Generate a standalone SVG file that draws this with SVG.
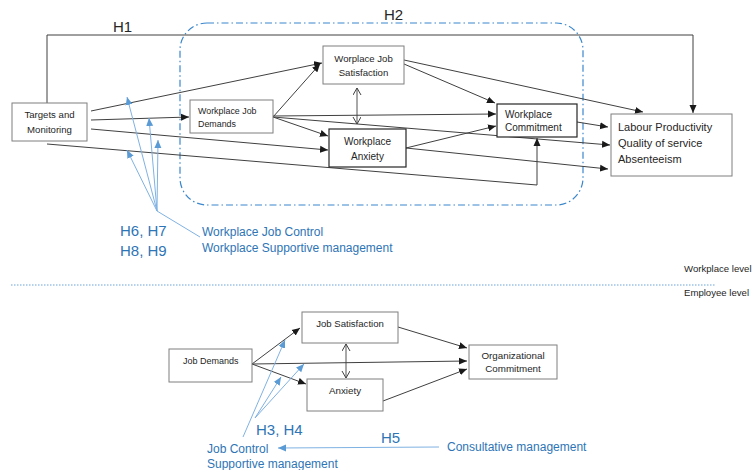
<svg xmlns="http://www.w3.org/2000/svg" width="756" height="470" viewBox="0 0 756 470">
<defs>
<marker id="ah" markerUnits="userSpaceOnUse" markerWidth="9" markerHeight="8" refX="8" refY="4" orient="auto">
<path d="M0,0.5 L8,4 L0,7.5 Z" fill="#1a1a1a"/>
</marker>
<marker id="bh" markerUnits="userSpaceOnUse" markerWidth="9" markerHeight="8" refX="8" refY="4" orient="auto">
<path d="M0,0.5 L8,4 L0,7.5 Z" fill="#5B9BD5"/>
</marker>
<marker id="vh" markerUnits="userSpaceOnUse" markerWidth="10" markerHeight="10" refX="7" refY="4" orient="auto-start-reverse">
<path d="M0,0 L7,4 L0,8" fill="none" stroke="#404040" stroke-width="1"/>
</marker>
</defs>
<style>
.box{fill:#fff;stroke:#7f7f7f;stroke-width:1}
.boxd{fill:#fff;stroke:#262626;stroke-width:1.2}
.t{font-family:"Liberation Sans",Arial,sans-serif;fill:#262626}
.bt{font-family:"Liberation Sans",Arial,sans-serif;fill:#2E75B6}
.c{fill:none;stroke:#404040;stroke-width:1;marker-end:url(#ah)}
.b{fill:none;stroke:#7fb2e3;stroke-width:1;marker-end:url(#bh)}
.bl{fill:none;stroke:#7fb2e3;stroke-width:1}
.d{fill:none;stroke:#404040;stroke-width:0.9;marker-start:url(#vh);marker-end:url(#vh)}
</style>
<rect width="756" height="470" fill="#fff"/>

<!-- group boundary -->
<rect id="h2-group" x="180" y="23" width="403" height="182" rx="27" ry="27" fill="none" stroke="#3b87cc" stroke-width="1.2" stroke-dasharray="7 3 1.5 3"/>
<text class="t" x="113" y="32" font-size="15">H1</text>
<text class="t" x="384" y="20" font-size="15">H2</text>

<!-- separator -->
<line x1="11" y1="285" x2="715" y2="285" stroke="#9dc3e6" stroke-width="1.5" stroke-dasharray="1.5 1.5"/>
<text class="t" x="684" y="272" font-size="9.6" fill="#404040">Workplace level</text>
<text class="t" x="684" y="296" font-size="9.6" fill="#404040">Employee level</text>

<g id="connectors">
<!-- upper -->
<polyline class="c" points="47,103 47,35 693,35 693,113" stroke="#7f7f7f"/>
<line class="c" x1="91" y1="111" x2="322" y2="63"/>
<line class="c" x1="91" y1="120" x2="189" y2="117"/>
<line class="c" x1="91" y1="129" x2="328" y2="150"/>
<polyline class="c" points="47,144 537,185 537,138"/>
<line class="c" x1="273" y1="117" x2="320" y2="64"/>
<line class="c" x1="273" y1="117" x2="328" y2="136"/>
<line class="c" x1="273" y1="116" x2="496" y2="114"/>
<line class="c" x1="273" y1="117" x2="610" y2="145"/>
<line class="c" x1="406" y1="148" x2="496" y2="126"/>
<line class="c" x1="406" y1="148" x2="608" y2="169"/>
<line class="c" x1="577" y1="122" x2="608" y2="127"/>
<line class="c" x1="404" y1="64" x2="495" y2="103"/>
<line class="c" x1="404" y1="60" x2="643" y2="112"/>
<line class="d" x1="357" y1="88" x2="357" y2="124"/>
<!-- upper blue -->
<line class="b" x1="157" y1="211" x2="127" y2="97"/>
<line class="b" x1="157" y1="211" x2="149" y2="118"/>
<line class="b" x1="157" y1="211" x2="158" y2="140"/>
<line class="b" x1="157" y1="211" x2="127" y2="150"/>
<line class="bl" x1="157" y1="211" x2="200" y2="237"/>
<!-- lower -->
<line class="c" x1="252" y1="364" x2="300" y2="328"/>
<line class="c" x1="252" y1="364" x2="306" y2="384"/>
<line class="c" x1="252" y1="364" x2="467" y2="361"/>
<line class="c" x1="398" y1="327" x2="467" y2="348"/>
<line class="c" x1="383" y1="401" x2="467" y2="369"/>
<line class="d" x1="346" y1="344" x2="346" y2="378"/>
<!-- lower blue -->
<line class="b" x1="243" y1="437" x2="285" y2="340"/>
<line class="b" x1="255" y1="418" x2="281" y2="377"/>
<line class="b" x1="255" y1="418" x2="304" y2="364"/>
<line class="b" x1="439" y1="447" x2="278" y2="448"/>
</g>

<g id="targets">
<rect class="box" x="12" y="103" width="75" height="38"/>
<text class="t" x="49.5" y="118" font-size="9.6" text-anchor="middle">Targets and</text>
<text class="t" x="49.5" y="133" font-size="9.6" text-anchor="middle">Monitoring</text>
</g>
<g id="wjd">
<rect class="box" x="190" y="100" width="83" height="33"/>
<text class="t" x="198" y="114" font-size="8.9">Workplace Job</text>
<text class="t" x="198" y="127" font-size="8.9">Demands</text>
</g>
<g id="wjs">
<rect class="box" x="323" y="46" width="81" height="38"/>
<text class="t" x="363.5" y="62" font-size="9.6" text-anchor="middle">Worplace Job</text>
<text class="t" x="363.5" y="76" font-size="9.6" text-anchor="middle">Satisfaction</text>
</g>
<g id="wanx">
<rect class="boxd" x="329" y="129" width="77" height="38"/>
<text class="t" x="367.5" y="145" font-size="10" text-anchor="middle">Workplace</text>
<text class="t" x="367.5" y="160" font-size="10" text-anchor="middle">Anxiety</text>
</g>
<g id="wcom">
<rect class="boxd" x="497" y="104" width="80" height="33" stroke-width="1.6"/>
<text class="t" x="505" y="118" font-size="10">Workplace</text>
<text class="t" x="505" y="131" font-size="10">Commitment</text>
</g>
<g id="outcomes">
<rect class="box" x="611" y="114" width="121" height="62"/>
<text class="t" x="618" y="131" font-size="11">Labour Productivity</text>
<text class="t" x="618" y="147" font-size="11">Quality of service</text>
<text class="t" x="618" y="163" font-size="11">Absenteeism</text>
</g>
<g id="wmod">
<text class="bt" x="120" y="236" font-size="15">H6, H7</text>
<text class="bt" x="120" y="256" font-size="15">H8, H9</text>
<text class="bt" x="202" y="236" font-size="12">Workplace Job Control</text>
<text class="bt" x="202" y="252" font-size="12">Workplace Supportive management</text>
</g>

<g id="jd">
<rect class="box" x="169" y="349" width="83" height="33"/>
<text class="t" x="183" y="364" font-size="9">Job Demands</text>
</g>
<g id="js">
<rect class="box" x="302" y="312" width="96" height="31"/>
<text class="t" x="350" y="327" font-size="9.6" text-anchor="middle">Job Satisfaction</text>
</g>
<g id="anx">
<rect class="box" x="307" y="379" width="76" height="32"/>
<text class="t" x="345" y="394" font-size="9.8" text-anchor="middle">Anxiety</text>
</g>
<g id="oc">
<rect class="box" x="469" y="345" width="88" height="34"/>
<text class="t" x="513" y="359" font-size="9.8" text-anchor="middle">Organizational</text>
<text class="t" x="513" y="372" font-size="9.8" text-anchor="middle">Commitment</text>
</g>
<g id="emod">
<text class="bt" x="256" y="435" font-size="15">H3, H4</text>
<text class="bt" x="381" y="443" font-size="15">H5</text>
<text class="bt" x="207" y="453" font-size="12">Job Control</text>
<text class="bt" x="207" y="468" font-size="12">Supportive management</text>
<text class="bt" x="447" y="451" font-size="12">Consultative management</text>
</g>
</svg>
